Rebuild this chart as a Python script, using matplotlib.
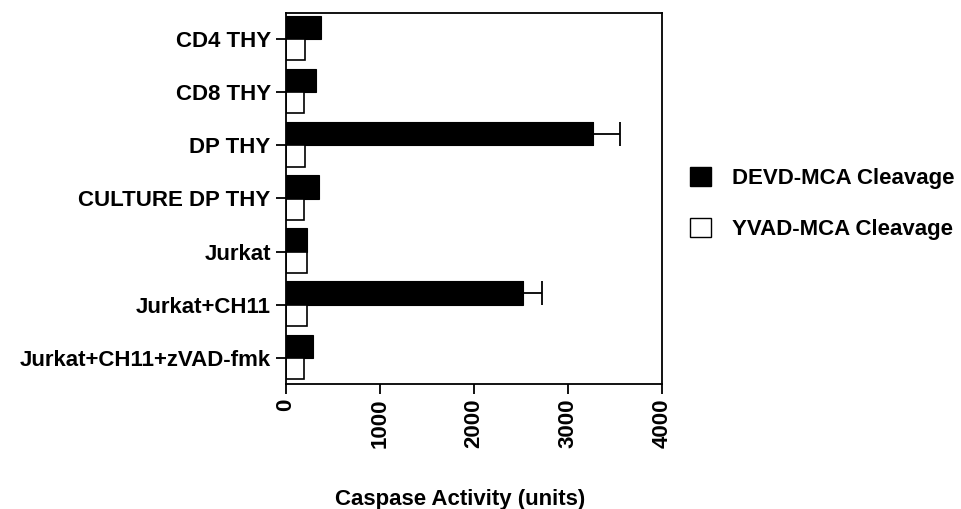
import matplotlib
matplotlib.use("Agg")
import matplotlib.pyplot as plt
from matplotlib.patches import Patch
import numpy as np

plt.rcParams['font.family'] = ['Liberation Sans', 'DejaVu Sans']
plt.rcParams['font.weight'] = 'bold'

categories = ["CD4 THY", "CD8 THY", "DP THY", "CULTURE DP THY", "Jurkat",
              "Jurkat+CH11", "Jurkat+CH11+zVAD-fmk"]
devd = [372, 316, 3262, 351, 220, 2525, 291]
devd_err = [0, 0, 290, 0, 0, 195, 0]
yvad = [200, 190, 198, 195, 220, 227, 195]
series_names = ["DEVD-MCA Cleavage", "YVAD-MCA Cleavage"]
xticks = [0, 1000, 2000, 3000, 4000]

fig = plt.figure(figsize=(9.61, 5.09), dpi=100)
ax = fig.add_axes([286/961, 1-384/509, (662-286)/961, (384-13)/509])

y = np.arange(len(categories))
# DEVD bar sits just above each tick, YVAD bar just below (y axis inverted)
ax.barh(y, devd, height=-0.44, align='edge', color='black', edgecolor='black',
        linewidth=0.8)
for yi, v, e in zip(y, devd, devd_err):
    if e > 0:
        ax.errorbar([v], [yi - 0.22], xerr=[[0], [e]], fmt='none', ecolor='black',
                    elinewidth=1.3, capsize=8.5, capthick=1.3)
ax.barh(y, yvad, height=0.40, align='edge', color='white', edgecolor='black',
        linewidth=1.2)

ax.set_ylim(6.49, -0.49)
ax.set_xlim(0, 4000)
ax.set_yticks(y)
ax.set_yticklabels(categories, fontsize=16, fontweight='bold')
ax.set_xticks(xticks)
ax.set_xticklabels([str(t) for t in xticks], rotation=90, fontsize=16, fontweight='bold')
ax.tick_params(axis='both', direction='out', length=7, width=1.3, colors='black')
ax.tick_params(axis='y', pad=4)
ax.tick_params(axis='x', pad=3.5)
for s in ax.spines.values():
    s.set_linewidth(1.3)
fig.text(460/961, 1-499/509, "Caspase Activity (units)", ha='center', va='center',
         fontsize=16, fontweight='bold')

handles = [Patch(facecolor='black', edgecolor='black', linewidth=1.0),
           Patch(facecolor='white', edgecolor='black', linewidth=1.0)]
fig.legend(handles, series_names, loc='center left',
           bbox_to_anchor=(690/961, 1-203.5/509), frameon=False,
           handlelength=0.95, handleheight=0.95,
           handletextpad=0.95, labelspacing=1.3, borderpad=0, borderaxespad=0,
           prop={'weight': 'bold', 'size': 16})

fig.savefig("out.png", dpi=100)
